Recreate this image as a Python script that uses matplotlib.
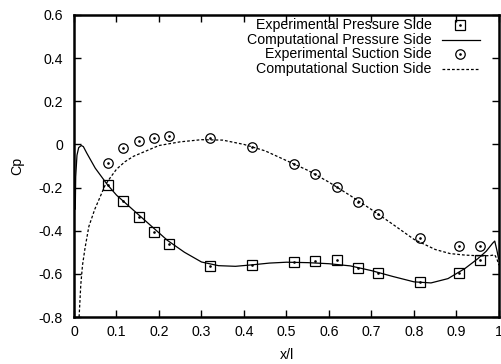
import matplotlib
matplotlib.use("Agg")
from matplotlib import pyplot as plt

plt.rcParams['font.family'] = ['Liberation Sans', 'DejaVu Sans']

# experimental points (same chord stations for both sides)
x_exp = [0.08, 0.115, 0.152, 0.189, 0.223, 0.321, 0.418, 0.518, 0.566, 0.618, 0.668, 0.716, 0.814, 0.907, 0.956]
cp_exp_pressure = [-0.188, -0.262, -0.335, -0.408, -0.462, -0.565, -0.56, -0.543, -0.542, -0.535, -0.572, -0.594, -0.637, -0.594, -0.538]
cp_exp_suction = [-0.085, -0.018, 0.016, 0.029, 0.037, 0.032, -0.012, -0.09, -0.137, -0.197, -0.266, -0.323, -0.434, -0.473, -0.473]

# computational pressure side
x_comp_pressure = [0.003, 0.004, 0.007, 0.011, 0.017, 0.022, 0.03, 0.05, 0.078, 0.1, 0.14, 0.18, 0.22, 0.26, 0.3,
                   0.34, 0.38, 0.42, 0.46, 0.5, 0.55, 0.6, 0.65, 0.7, 0.75, 0.8, 0.84, 0.88, 0.92, 0.95, 0.97,
                   0.985, 0.99, 0.995, 0.999]
cp_comp_pressure = [-0.30, -0.15, -0.05, -0.015, -0.005, -0.01, -0.04, -0.11, -0.185, -0.235, -0.305, -0.375, -0.445,
                    -0.5, -0.545, -0.562, -0.565, -0.558, -0.55, -0.546, -0.548, -0.553, -0.563, -0.585, -0.612,
                    -0.637, -0.642, -0.622, -0.575, -0.53, -0.495, -0.458, -0.448, -0.49, -0.53]

# computational suction side
x_comp_suction = [0.012, 0.016, 0.02, 0.026, 0.035, 0.049, 0.06, 0.073, 0.085, 0.1, 0.12, 0.14, 0.17, 0.2, 0.25,
                  0.3, 0.35, 0.4, 0.45, 0.5, 0.55, 0.6, 0.65, 0.7, 0.75, 0.8, 0.85, 0.885, 0.92, 0.96, 0.98,
                  0.99, 0.995, 1.0]
cp_comp_suction = [-0.8, -0.65, -0.56, -0.48, -0.38, -0.30, -0.25, -0.19, -0.155, -0.115, -0.08, -0.055, -0.03,
                   -0.005, 0.012, 0.022, 0.02, 0.0, -0.03, -0.075, -0.12, -0.175, -0.237, -0.302, -0.37, -0.44,
                   -0.487, -0.506, -0.513, -0.517, -0.515, -0.512, -0.53, -0.56]

legend_labels = ['Experimental Pressure Side', 'Computational Pressure Side',
                 'Experimental Suction Side', 'Computational Suction Side']

fs = 10.2
dash = (0, (2.2, 1.6))

fig = plt.figure(figsize=(5.02, 3.64), dpi=100)
ax = fig.add_axes([0.1474, 0.1291, 0.8466, 0.8297])

ax.plot(x_comp_pressure, cp_comp_pressure, color='black', lw=0.9)
ax.plot(x_comp_suction, cp_comp_suction, color='black', lw=0.9, ls=dash)
ax.plot(x_exp, cp_exp_pressure, ls='none', marker='s', ms=7.2, mfc='none', mec='black', mew=0.9)
ax.plot(x_exp, cp_exp_suction, ls='none', marker='o', ms=6.8, mfc='none', mec='black', mew=0.9)
# little dot in the middle of each point symbol
ax.plot(x_exp + x_exp, cp_exp_pressure + cp_exp_suction, ls='none', marker='o', ms=0.9, color='black')

# gnuplot-like key: right-aligned text with sample on the right
rows = [0.967, 0.917, 0.870, 0.821]
for i, (lab, yk) in enumerate(zip(legend_labels, rows)):
    ax.text(0.842, yk, lab, transform=ax.transAxes, ha='right', va='center', fontsize=fs)
    if i in (0, 2):
        mk = 's' if i == 0 else 'o'
        ax.plot([0.908], [yk], transform=ax.transAxes, marker=mk, ms=6.8 if i == 2 else 7.2,
                mfc='none', mec='black', mew=0.9)
        ax.plot([0.908], [yk], transform=ax.transAxes, marker='o', ms=0.9, color='black')
    else:
        ax.plot([0.866, 0.955], [yk, yk], transform=ax.transAxes, color='black', lw=0.9,
                ls='-' if i == 1 else dash)

ax.set_xlim(0, 1)
ax.set_ylim(-0.8, 0.6)
ax.set_xticks([i / 10 for i in range(11)])
ax.set_xticklabels(['0', '0.1', '0.2', '0.3', '0.4', '0.5', '0.6', '0.7', '0.8', '0.9', '1'])
ax.set_yticks([-0.8, -0.6, -0.4, -0.2, 0, 0.2, 0.4, 0.6])
ax.set_yticklabels(['-0.8', '-0.6', '-0.4', '-0.2', '0', '0.2', '0.4', '0.6'])
ax.tick_params(direction='in', length=5, width=1, top=True, right=True, labelsize=fs)
ax.tick_params(axis='y', pad=8)
ax.tick_params(axis='x', pad=6)
for s in ax.spines.values():
    s.set_linewidth(1.8)

ax.set_xlabel('x/l', fontsize=fs, labelpad=6)
ax.set_ylabel('Cp', fontsize=fs, labelpad=10)

fig.savefig('out.png', dpi=100)
